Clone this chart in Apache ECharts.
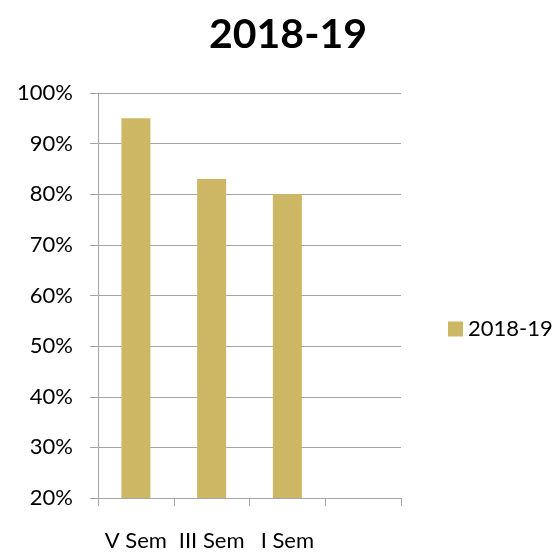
<!DOCTYPE html>
<html>
<head>
<meta charset="utf-8">
<script src="https://cdn.jsdelivr.net/npm/echarts@6/dist/echarts.min.js"></script>
<style>
  html, body { margin: 0; padding: 0; background: #fff; }
  #chart { width: 556px; height: 552px; }
</style>
</head>
<body>
<div id="chart"></div>
<script>
// data
const categories = ['V Sem', 'III Sem', 'I Sem', ''];
const values = [95, 83, 80, null];
const seriesName = '2018-19';

const myChart = echarts.init(document.getElementById('chart'));

const option = {
  animation: false,
  textStyle: { fontFamily: 'Lato' },
  title: {
    text: '2018-19',
    left: 283,
    textAlign: 'center',
    top: 9,
    textStyle: { fontFamily: 'Lato', fontWeight: 'bold', fontSize: 41, color: '#000' }
  },
  legend: {
    data: [seriesName],
    left: 443,
    top: 313,
    icon: 'rect',
    itemWidth: 15,
    itemHeight: 15,
    itemGap: 8,
    textStyle: { fontFamily: 'Lato', fontSize: 22, color: '#000' }
  },
  grid: {
    left: 98,
    right: 155,
    top: 93,
    bottom: 53
  },
  xAxis: {
    type: 'category',
    data: categories,
    axisLine: { lineStyle: { color: '#a6a6a6', width: 1 } },
    axisTick: { show: true, length: 8, alignWithLabel: false, lineStyle: { color: '#a6a6a6' } },
    axisLabel: { margin: 32, fontSize: 22, color: '#000', fontFamily: 'Lato', interval: 0 }
  },
  yAxis: {
    type: 'value',
    min: 20,
    max: 100,
    interval: 10,
    axisLine: { show: true, lineStyle: { color: '#a6a6a6', width: 1 } },
    axisTick: { show: true, length: 8, lineStyle: { color: '#a6a6a6' } },
    axisLabel: {
      margin: 25,
      fontSize: 22,
      color: '#000',
      fontFamily: 'Lato',
      formatter: '{value}%'
    },
    splitLine: { lineStyle: { color: '#a6a6a6', width: 1 } }
  },
  series: [
    {
      name: seriesName,
      type: 'bar',
      data: values,
      barWidth: 29,
      itemStyle: { color: '#CDB765' }
    }
  ]
};

myChart.setOption(option);
</script>
</body>
</html>
